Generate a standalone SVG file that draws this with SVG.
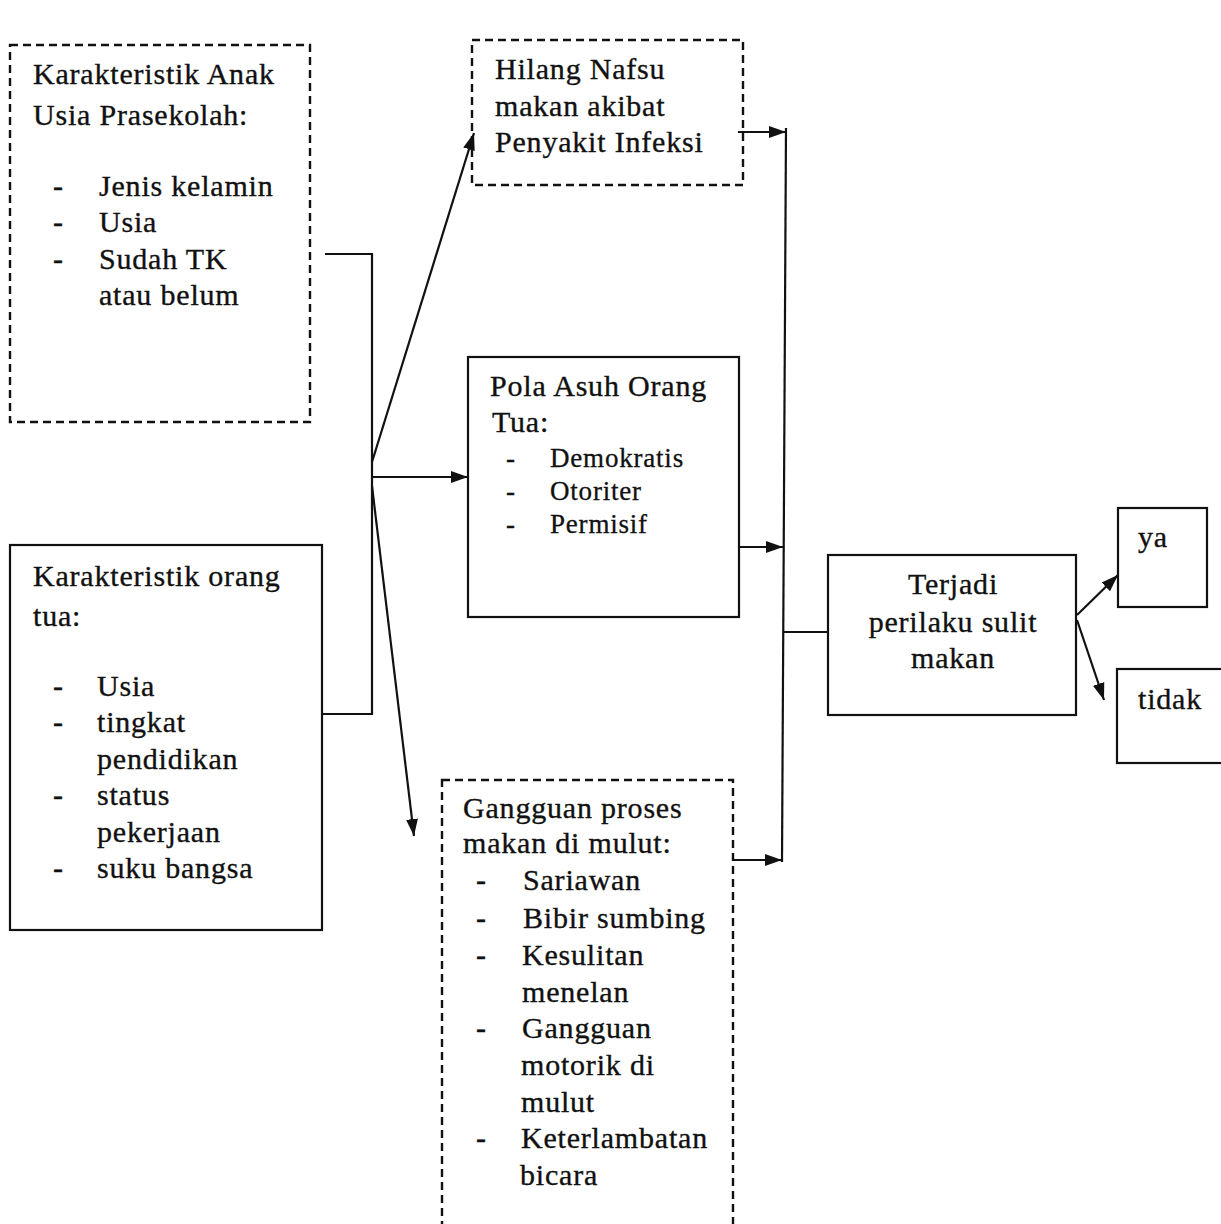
<svg xmlns="http://www.w3.org/2000/svg" width="1221" height="1224" viewBox="0 0 1221 1224">
<style>
.bg{fill:#ffffff}
.box{fill:none;stroke:#111;stroke-width:2.2}
.dash{fill:none;stroke:#111;stroke-width:2.4;stroke-dasharray:8 5}
.t{font-family:"Liberation Serif","Times New Roman",serif;font-size:30px;letter-spacing:0.8px;fill:#111;stroke:#111;stroke-width:0.35}
.s{font-family:"Liberation Serif","Times New Roman",serif;font-size:27px;letter-spacing:0.8px;fill:#111;stroke:#111;stroke-width:0.3}
.c{text-anchor:middle}
.ln{fill:none;stroke:#111;stroke-width:2.2}
.ar{fill:none;stroke:#111;stroke-width:2.2;marker-end:url(#ah)}
</style>
<defs>
<marker id="ah" markerUnits="userSpaceOnUse" markerWidth="18" markerHeight="14" refX="17" refY="7" orient="auto">
<path d="M0,1 L17,7 L0,13 z" fill="#111"/>
</marker>
</defs>
<rect class="bg" x="0" y="0" width="1221" height="1224"/>

<g id="connectors">
<polyline class="ln" points="325,254 372,254 372,714 322,714"/>
<line class="ar" x1="372" y1="462" x2="474" y2="133"/>
<line class="ar" x1="372" y1="477" x2="468" y2="477"/>
<line class="ar" x1="372" y1="486" x2="414" y2="836"/>
<line class="ar" x1="738" y1="132" x2="786" y2="132"/>
<line class="ln" x1="786" y1="128" x2="782" y2="862"/>
<line class="ar" x1="739" y1="547" x2="783" y2="547"/>
<line class="ar" x1="733" y1="860" x2="782" y2="860"/>
<line class="ln" x1="783" y1="632" x2="828" y2="632"/>
<line class="ar" x1="1077" y1="615" x2="1118" y2="575"/>
<line class="ar" x1="1077" y1="620" x2="1104" y2="700"/>
</g>

<g id="anak">
<rect class="dash" x="10" y="45" width="300" height="377"/>
<text class="t" x="33" y="84">Karakteristik Anak</text>
<text class="t" x="33" y="125">Usia Prasekolah:</text>
<text class="t" x="53" y="196">-</text>
<text class="t" x="99" y="196">Jenis kelamin</text>
<text class="t" x="53" y="232">-</text>
<text class="t" x="99" y="232">Usia</text>
<text class="t" x="53" y="269">-</text>
<text class="t" x="99" y="269">Sudah TK</text>
<text class="t" x="99" y="305">atau belum</text>
</g>

<g id="orangtua">
<rect class="box" x="10" y="545" width="312" height="385"/>
<text class="t" x="33" y="586">Karakteristik orang</text>
<text class="t" x="33" y="626">tua:</text>
<text class="t" x="53" y="696">-</text>
<text class="t" x="97" y="696">Usia</text>
<text class="t" x="53" y="732">-</text>
<text class="t" x="97" y="732">tingkat</text>
<text class="t" x="97" y="769">pendidikan</text>
<text class="t" x="53" y="805">-</text>
<text class="t" x="97" y="805">status</text>
<text class="t" x="97" y="842">pekerjaan</text>
<text class="t" x="53" y="878">-</text>
<text class="t" x="97" y="878">suku bangsa</text>
</g>

<g id="hilang">
<rect class="dash" x="472" y="40" width="271" height="145"/>
<text class="t" x="495" y="79">Hilang Nafsu</text>
<text class="t" x="495" y="116">makan akibat</text>
<text class="t" x="495" y="152">Penyakit Infeksi</text>
</g>

<g id="polaasuh">
<rect class="box" x="468" y="357" width="271" height="260"/>
<text class="t" x="490" y="396">Pola Asuh Orang</text>
<text class="t" x="492" y="432">Tua:</text>
<text class="s" x="506" y="467">-</text>
<text class="s" x="550" y="467">Demokratis</text>
<text class="s" x="506" y="500">-</text>
<text class="s" x="550" y="500">Otoriter</text>
<text class="s" x="506" y="533">-</text>
<text class="s" x="550" y="533">Permisif</text>
</g>

<g id="gangguan">
<rect class="dash" x="442" y="780" width="291" height="460"/>
<text class="t" x="463" y="818">Gangguan proses</text>
<text class="t" x="463" y="853">makan di mulut:</text>
<text class="t" x="476" y="890">-</text>
<text class="t" x="523" y="890">Sariawan</text>
<text class="t" x="476" y="928">-</text>
<text class="t" x="523" y="928">Bibir sumbing</text>
<text class="t" x="476" y="965">-</text>
<text class="t" x="522" y="965">Kesulitan</text>
<text class="t" x="522" y="1002">menelan</text>
<text class="t" x="476" y="1038">-</text>
<text class="t" x="522" y="1038">Gangguan</text>
<text class="t" x="521" y="1075">motorik di</text>
<text class="t" x="521" y="1112">mulut</text>
<text class="t" x="476" y="1148">-</text>
<text class="t" x="521" y="1148">Keterlambatan</text>
<text class="t" x="520" y="1185">bicara</text>
</g>

<g id="terjadi">
<rect class="box" x="828" y="555" width="248" height="160"/>
<text class="t c" x="953" y="594">Terjadi</text>
<text class="t c" x="953" y="632">perilaku sulit</text>
<text class="t c" x="953" y="668">makan</text>
</g>

<g id="ya">
<rect class="box" x="1118" y="508" width="89" height="99"/>
<text class="t" x="1138" y="547">ya</text>
</g>

<g id="tidak">
<rect class="box" x="1117" y="669" width="110" height="94"/>
<text class="t" x="1138" y="709">tidak</text>
</g>
</svg>
